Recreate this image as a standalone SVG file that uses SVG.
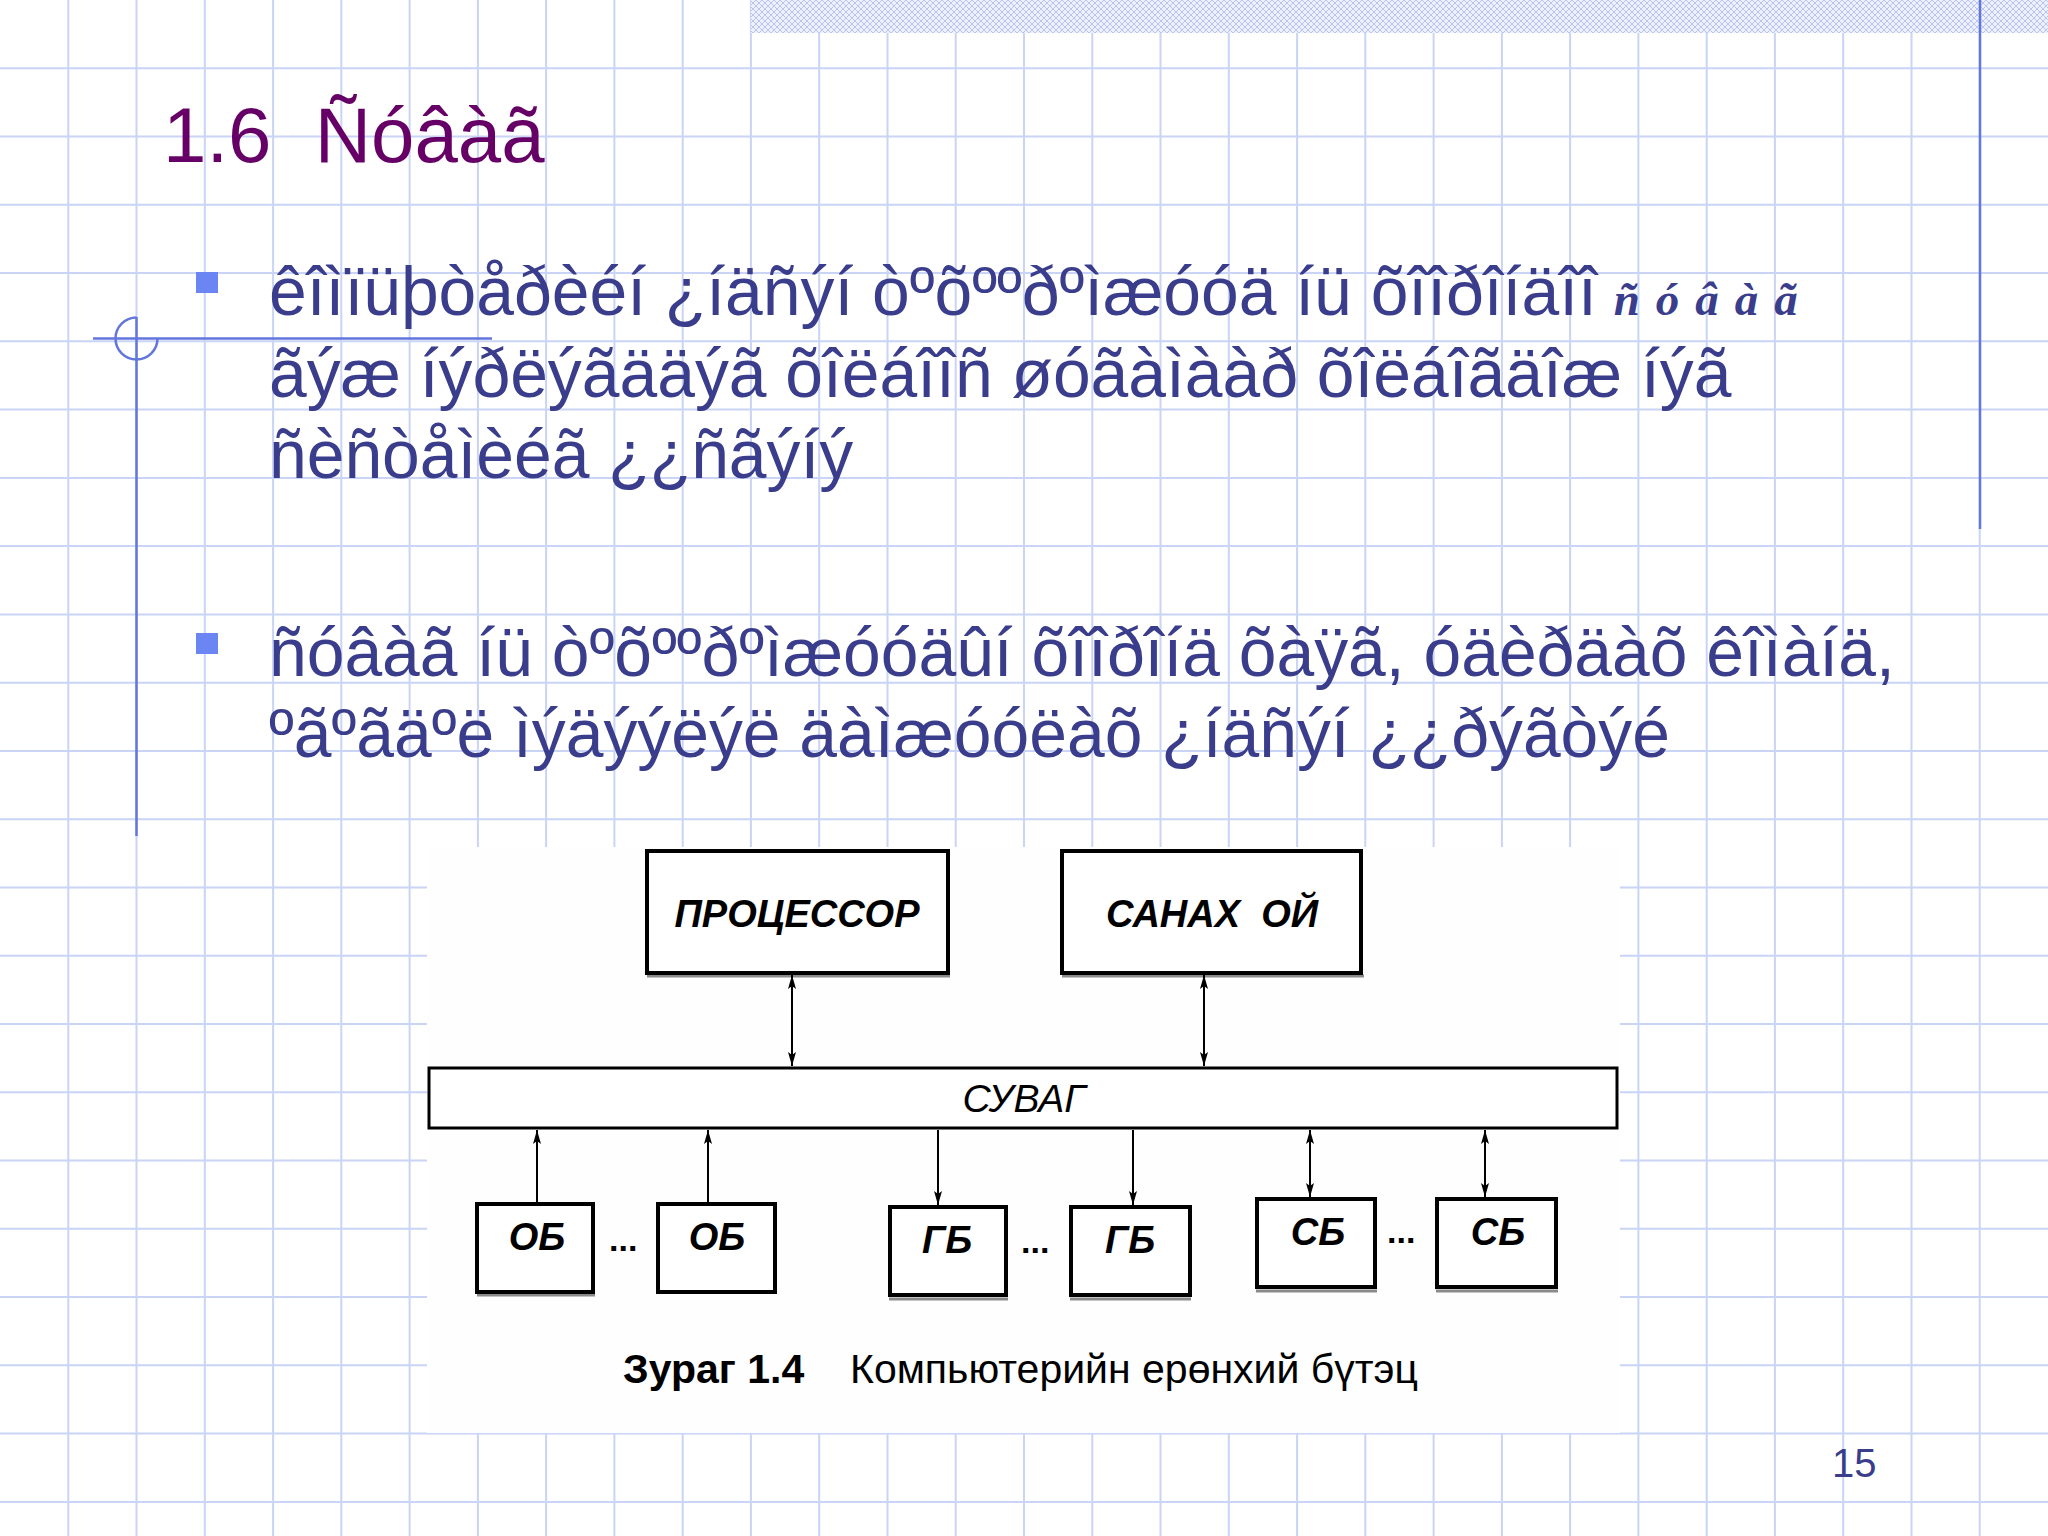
<svg xmlns="http://www.w3.org/2000/svg" width="2048" height="1536" viewBox="0 0 2048 1536">
<defs>
<style>
.grid{stroke:#c9d4f6;stroke-width:2;fill:none}
.deco{stroke:#6276dc;stroke-width:2.5;fill:none}
.title{font-family:"Liberation Sans",Arial,sans-serif;font-size:78px;fill:#660066}
.body{font-family:"Liberation Sans",Arial,sans-serif;font-size:67.8px;fill:#3a3d8c}
.ital{font-family:"Liberation Serif","Times New Roman",serif;font-size:47px;font-style:italic;font-weight:bold;fill:#3a3d8c;letter-spacing:16px}
.bullet{fill:#6b86f2}
.box{fill:#fff;stroke:#000;stroke-width:4}
.shadow{stroke:#8a8a8a;stroke-width:3}
.lbl{font-family:"Liberation Sans",Arial,sans-serif;font-weight:bold;font-style:italic;font-size:38px;fill:#000;text-anchor:middle}
.bus{font-family:"Liberation Sans",Arial,sans-serif;font-style:italic;font-size:39px;fill:#000;text-anchor:middle}
.dots{font-family:"Liberation Sans",Arial,sans-serif;font-weight:bold;font-size:34px;fill:#000}
.cap{font-family:"Liberation Sans",Arial,sans-serif;font-size:41px;fill:#000}
.conn{stroke:#000;stroke-width:2;fill:none}
</style>
<pattern id="hatch" width="6" height="6" patternUnits="userSpaceOnUse">
<rect width="6" height="6" fill="#eef1fc"/>
<path d="M0 0 L6 6 M6 0 L0 6" stroke="#b9c4f0" stroke-width="1"/>
</pattern>
<marker id="arr" viewBox="0 0 14 8" refX="14" refY="4" markerWidth="14" markerHeight="8" markerUnits="userSpaceOnUse" orient="auto-start-reverse">
<path d="M0 0 L14 4 L0 8 L3 4 z" fill="#000"/>
</marker>
</defs>
<rect width="2048" height="1536" fill="#ffffff"/>
<g id="background">
<path class="grid" d="M68.3 0V1536M136.5 0V1536M204.8 0V1536M273.1 0V1536M341.3 0V1536M409.6 0V1536M477.9 0V1536M546.1 0V1536M614.4 0V1536M682.7 0V1536M750.9 0V1536M819.2 0V1536M887.5 0V1536M955.7 0V1536M1024 0V1536M1092.3 0V1536M1160.5 0V1536M1228.8 0V1536M1297.1 0V1536M1365.3 0V1536M1433.6 0V1536M1501.9 0V1536M1570.1 0V1536M1638.4 0V1536M1706.7 0V1536M1774.9 0V1536M1843.2 0V1536M1911.5 0V1536M1979.7 0V1536M0 68.3H2048M0 136.5H2048M0 204.8H2048M0 273.1H2048M0 341.3H2048M0 409.6H2048M0 477.9H2048M0 546.1H2048M0 614.4H2048M0 682.7H2048M0 750.9H2048M0 819.2H2048M0 887.5H2048M0 955.7H2048M0 1024H2048M0 1092.3H2048M0 1160.5H2048M0 1228.8H2048M0 1297.1H2048M0 1365.3H2048M0 1433.6H2048M0 1501.9H2048"/>
<rect x="751" y="0" width="1297" height="33" fill="url(#hatch)"/>
<line class="deco" x1="1980" y1="0" x2="1980" y2="529"/>
<line class="deco" x1="136.5" y1="317" x2="136.5" y2="836"/>
<line class="deco" x1="93" y1="338.5" x2="492" y2="338.5"/>
<path class="deco" d="M136.5 317.5 A21 21 0 1 0 157.5 338.5"/>
</g>
<text class="title" x="163" y="162" xml:space="preserve">1.6  Ñóâàã</text>
<g id="bullets">
<rect class="bullet" x="196" y="272" width="22" height="21"/>
<text class="body" x="269" y="315">êîìïüþòåðèéí ¿íäñýí òºõººðºìæóóä íü õîîðîíäîî <tspan class="ital" dx="-2">ñóâàã</tspan></text>
<text class="body" x="269" y="397">ãýæ íýðëýãääýã õîëáîîñ øóãàìààð õîëáîãäîæ íýã</text>
<text class="body" x="269" y="478">ñèñòåìèéã ¿¿ñãýíý</text>
<rect class="bullet" x="196" y="633" width="22" height="21"/>
<text class="body" x="269" y="676">ñóâàã íü òºõººðºìæóóäûí õîîðîíä õàÿã, óäèðäàõ êîìàíä,</text>
<text class="body" x="269" y="757">ºãºãäºë ìýäýýëýë äàìæóóëàõ ¿íäñýí ¿¿ðýãòýé</text>
</g>
<g id="figure">
<rect x="427" y="847" width="1193" height="586" fill="#fefefe"/>
<g id="node-processor">
<line class="shadow" x1="647" y1="976" x2="950" y2="976"/>
<rect class="box" x="647" y="851" width="301" height="122"/>
<text class="lbl" x="797" y="927">ПРОЦЕССОР</text>
</g>
<g id="node-memory">
<line class="shadow" x1="1062" y1="976" x2="1364" y2="976"/>
<rect class="box" x="1062" y="851" width="299" height="122"/>
<text class="lbl" x="1212" y="927" xml:space="preserve">САНАХ  ОЙ</text>
</g>
<g id="node-bus">
<rect x="429" y="1068" width="1188" height="60" fill="#fff" stroke="#000" stroke-width="3"/>
<text class="bus" x="1024" y="1112">СУВАГ</text>
</g>
<g id="node-ob1">
<line class="shadow" x1="477" y1="1295" x2="595" y2="1295"/>
<rect class="box" x="477" y="1204" width="116" height="88"/>
<text class="lbl" x="537" y="1250">ОБ</text>
</g>
<g id="node-ob2">
<rect class="box" x="658" y="1204" width="117" height="88"/>
<text class="lbl" x="717" y="1250">ОБ</text>
</g>
<g id="node-gb1">
<line class="shadow" x1="889" y1="1299" x2="1008" y2="1299"/>
<rect class="box" x="890" y="1207" width="116" height="88"/>
<text class="lbl" x="947" y="1253">ГБ</text>
</g>
<g id="node-gb2">
<line class="shadow" x1="1070" y1="1299" x2="1191" y2="1299"/>
<rect class="box" x="1071" y="1207" width="119" height="88"/>
<text class="lbl" x="1130" y="1253">ГБ</text>
</g>
<g id="node-sb1">
<line class="shadow" x1="1256" y1="1291" x2="1377" y2="1291"/>
<rect class="box" x="1257" y="1199" width="118" height="88"/>
<text class="lbl" x="1318" y="1245">СБ</text>
</g>
<g id="node-sb2">
<line class="shadow" x1="1436" y1="1291" x2="1558" y2="1291"/>
<rect class="box" x="1437" y="1199" width="119" height="88"/>
<text class="lbl" x="1498" y="1245">СБ</text>
</g>
<text class="dots" x="609" y="1251">...</text>
<text class="dots" x="1021" y="1253">...</text>
<text class="dots" x="1387" y="1243">...</text>
<text class="cap" x="623" y="1383" font-weight="bold">Зураг 1.4</text>
<text class="cap" x="850" y="1383">Компьютерийн ерөнхий бүтэц</text>
</g>
<g id="connectors">
<line class="conn" x1="792" y1="975" x2="792" y2="1066" marker-start="url(#arr)" marker-end="url(#arr)"/>
<line class="conn" x1="1204" y1="975" x2="1204" y2="1066" marker-start="url(#arr)" marker-end="url(#arr)"/>
<line class="conn" x1="537" y1="1202" x2="537" y2="1130" marker-end="url(#arr)"/>
<line class="conn" x1="708" y1="1202" x2="708" y2="1130" marker-end="url(#arr)"/>
<line class="conn" x1="938" y1="1130" x2="938" y2="1205" marker-end="url(#arr)"/>
<line class="conn" x1="1133" y1="1130" x2="1133" y2="1205" marker-end="url(#arr)"/>
<line class="conn" x1="1310" y1="1130" x2="1310" y2="1197" marker-start="url(#arr)" marker-end="url(#arr)"/>
<line class="conn" x1="1485" y1="1130" x2="1485" y2="1197" marker-start="url(#arr)" marker-end="url(#arr)"/>
</g>
<text x="1832" y="1477" font-family="Liberation Sans, Arial, sans-serif" font-size="40" fill="#3a3d8c">15</text>
</svg>
